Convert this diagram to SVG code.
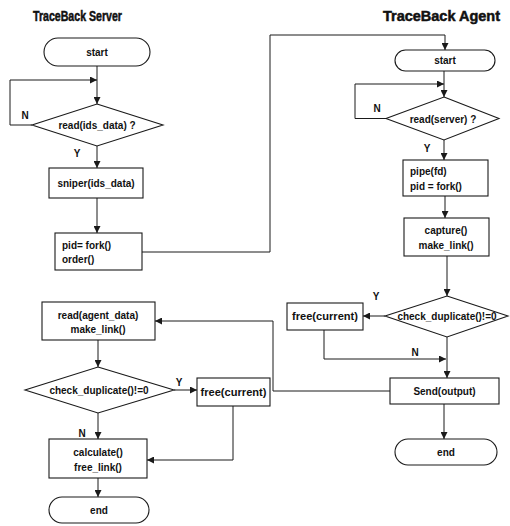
<svg xmlns="http://www.w3.org/2000/svg" width="510" height="526" viewBox="0 0 510 526">
<style>
.bg{fill:#fff}
.sh{fill:#fff;stroke:#1a1a1a;stroke-width:1.1}
.ln{fill:none;stroke:#1a1a1a;stroke-width:1}
.t{font-family:"Liberation Sans",Arial,sans-serif;font-size:10px;font-weight:bold;fill:#111;text-anchor:middle}
.tl{text-anchor:start}
.ti{font-family:"Liberation Sans",Arial,sans-serif;font-size:14px;font-weight:bold;fill:#111;stroke:#111;stroke-width:0.5}
.lb{font-family:"Liberation Sans",Arial,sans-serif;font-size:10px;font-weight:bold;fill:#111;text-anchor:middle}
</style>
<defs>
<marker id="ar" markerUnits="userSpaceOnUse" markerWidth="8" markerHeight="7" refX="7" refY="3.5" orient="auto">
<path d="M0,0 L7,3.5 L0,7 z" fill="#1a1a1a"/>
</marker>
</defs>
<rect class="bg" x="0" y="0" width="510" height="526"/>

<g id="titles">
<text class="ti" x="33" y="21" textLength="89" lengthAdjust="spacingAndGlyphs">TraceBack Server</text>
<text class="ti" x="383" y="21" textLength="117" lengthAdjust="spacingAndGlyphs">TraceBack Agent</text>
</g>

<g id="connectors">
<!-- server -->
<line class="ln" x1="97" y1="66" x2="97" y2="104" marker-end="url(#ar)"/>
<polyline class="ln" points="32,125 10,125 10,80 97,80" marker-end="url(#ar)"/>
<line class="ln" x1="97" y1="146" x2="97" y2="168" marker-end="url(#ar)"/>
<line class="ln" x1="97" y1="198" x2="97" y2="233" marker-end="url(#ar)"/>
<polyline class="ln" points="142,252 270,252 270,35 445,35 445,50" marker-end="url(#ar)"/>
<!-- agent -->
<line class="ln" x1="444" y1="71" x2="444" y2="97" marker-end="url(#ar)"/>
<polyline class="ln" points="386,118.5 355,118.5 355,84 444,84" marker-end="url(#ar)"/>
<line class="ln" x1="444" y1="140" x2="444" y2="160" marker-end="url(#ar)"/>
<line class="ln" x1="445" y1="196" x2="445" y2="218" marker-end="url(#ar)"/>
<line class="ln" x1="447" y1="256" x2="447" y2="296" marker-end="url(#ar)"/>
<line class="ln" x1="385" y1="316" x2="363" y2="316" marker-end="url(#ar)"/>
<polyline class="ln" points="324,330 324,359 446,359" marker-end="url(#ar)"/>
<line class="ln" x1="447" y1="337" x2="447" y2="378" marker-end="url(#ar)"/>
<polyline class="ln" points="390,391 273,391 273,321 155,321" marker-end="url(#ar)"/>
<line class="ln" x1="444" y1="404" x2="444" y2="439" marker-end="url(#ar)"/>
<!-- server lower -->
<line class="ln" x1="98" y1="340" x2="98" y2="367" marker-end="url(#ar)"/>
<line class="ln" x1="174" y1="390" x2="197" y2="390" marker-end="url(#ar)"/>
<polyline class="ln" points="233,406 233,460 147,460" marker-end="url(#ar)"/>
<line class="ln" x1="98" y1="413" x2="98" y2="439" marker-end="url(#ar)"/>
<line class="ln" x1="98" y1="478" x2="98" y2="497" marker-end="url(#ar)"/>
<!-- labels -->
<text class="lb" x="25" y="119">N</text>
<text class="lb" x="77" y="157">Y</text>
<text class="lb" x="377" y="112">N</text>
<text class="lb" x="427" y="152">Y</text>
<text class="lb" x="376" y="300">Y</text>
<text class="lb" x="415" y="356">N</text>
<text class="lb" x="179" y="386">Y</text>
<text class="lb" x="82" y="437">N</text>
</g>

<g id="s_start">
<rect class="sh" x="44" y="38" width="106" height="28" rx="14"/>
<text class="t" x="97" y="56">start</text>
</g>
<g id="s_read">
<polygon class="sh" points="97,104 163,125 97,146 32,125"/>
<text class="t" x="97" y="129">read(ids_data) ?</text>
</g>
<g id="s_sniper">
<rect class="sh" x="49" y="168" width="94" height="30"/>
<text class="t" x="96" y="187">sniper(ids_data)</text>
</g>
<g id="s_fork">
<rect class="sh" x="55" y="233" width="87" height="37"/>
<text class="t tl" x="62" y="249">pid= fork()</text>
<text class="t tl" x="62" y="263">order()</text>
</g>
<g id="s_readagent">
<rect class="sh" x="42" y="302" width="113" height="38"/>
<text class="t" x="98" y="319">read(agent_data)</text>
<text class="t" x="98" y="333">make_link()</text>
</g>
<g id="s_check">
<polygon class="sh" points="98,367 174,390 98,413 25,390"/>
<text class="t" x="99" y="394">check_duplicate()!=0</text>
</g>
<g id="s_free">
<rect class="sh" x="197" y="378" width="73" height="28"/>
<text class="t" x="233.5" y="396" textLength="66" lengthAdjust="spacingAndGlyphs">free(current)</text>
</g>
<g id="s_calc">
<rect class="sh" x="49" y="439" width="98" height="39"/>
<text class="t" x="98" y="456">calculate()</text>
<text class="t" x="98" y="471">free_link()</text>
</g>
<g id="s_end">
<rect class="sh" x="49" y="497" width="100" height="26" rx="13"/>
<text class="t" x="99" y="514">end</text>
</g>

<g id="a_start">
<rect class="sh" x="395" y="50" width="100" height="21" rx="10.5"/>
<text class="t" x="445" y="64">start</text>
</g>
<g id="a_read">
<polygon class="sh" points="444,97 499,118.5 444,140 386,118.5"/>
<text class="t" x="443" y="122.5">read(server) ?</text>
</g>
<g id="a_pipe">
<rect class="sh" x="403" y="160" width="85" height="36"/>
<text class="t tl" x="410" y="175">pipe(fd)</text>
<text class="t tl" x="410" y="190">pid = fork()</text>
</g>
<g id="a_capture">
<rect class="sh" x="404" y="218" width="85" height="38"/>
<text class="t" x="446" y="234">capture()</text>
<text class="t" x="446" y="249">make_link()</text>
</g>
<g id="a_check">
<polygon class="sh" points="447,296 508,316 447,337 385,316"/>
<text class="t" x="447" y="320">check_duplicate()!=0</text>
</g>
<g id="a_free">
<rect class="sh" x="287" y="303" width="76" height="27"/>
<text class="t" x="325" y="320" textLength="66" lengthAdjust="spacingAndGlyphs">free(current)</text>
</g>
<g id="a_send">
<rect class="sh" x="390" y="378" width="109" height="26"/>
<text class="t" x="444.5" y="395">Send(output)</text>
</g>
<g id="a_end">
<rect class="sh" x="395" y="439" width="102" height="26" rx="13"/>
<text class="t" x="446" y="456">end</text>
</g>
</svg>
